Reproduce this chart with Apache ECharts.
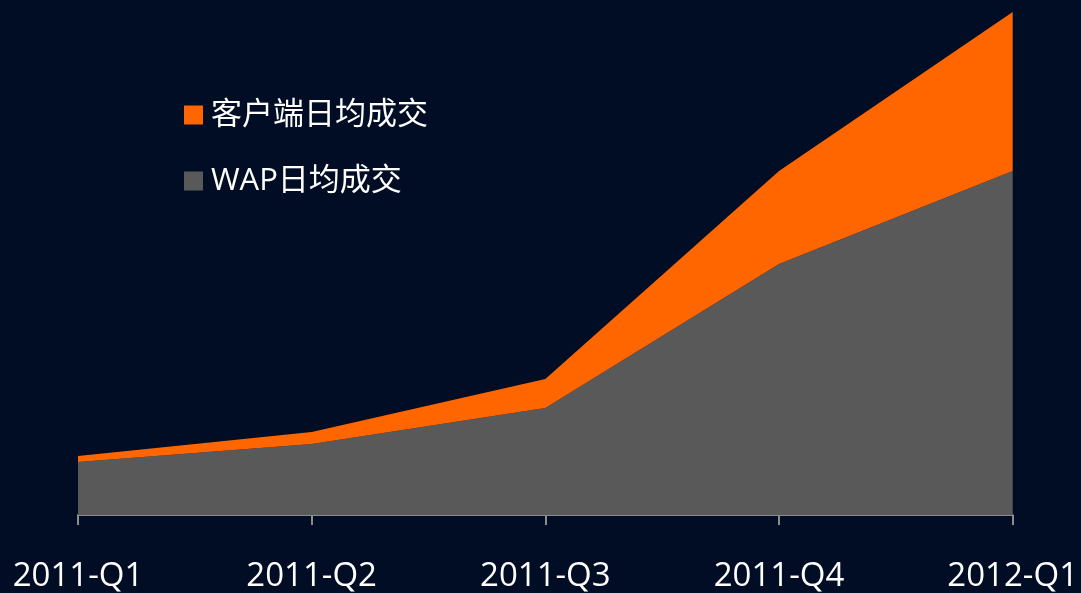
<!DOCTYPE html>
<html>
<head>
    <meta charset="utf-8">
    <title>日均成交</title>
    <script src="https://cdn.jsdelivr.net/npm/echarts@6/dist/echarts.min.js"></script>
    <style>
        html, body { margin: 0; padding: 0; background: #000d24; }
        #chart1 { width: 1081px; height: 593px; }
    </style>
</head>
<body>
<div id="chart1"></div>
<script type="text/javascript">
    // 季度
    var quarters = ['2011-Q1', '2011-Q2', '2011-Q3', '2011-Q4', '2012-Q1'];
    // WAP日均成交（底层）
    var wapValues = [53, 71, 107, 251, 344];
    // 客户端日均成交（叠加在上面）
    var clientValues = [6, 12, 29, 93, 159];

    var font = '"Open Sans", "Noto Sans CJK SC", sans-serif';

    var myChart1 = echarts.init(document.getElementById('chart1'));
    myChart1.setOption({
        backgroundColor: '#000d24',
        animation: false,
        grid: { left: 78, right: 67, top: 12, bottom: 78 },
        legend: {
            orient: 'vertical',
            left: 179,
            top: 93,
            itemWidth: 19,
            itemHeight: 19,
            itemGap: 32,
            icon: 'rect',
            textStyle: {
                color: '#ffffff',
                fontSize: 31,
                lineHeight: 34,
                padding: [0, 0, 0, 3],
                fontFamily: font
            },
            data: ['客户端日均成交', 'WAP日均成交']
        },
        xAxis: {
            type: 'category',
            boundaryGap: false,
            data: quarters,
            axisLine: { lineStyle: { color: '#8c8c8c', width: 2 } },
            axisTick: { show: true, length: 10, lineStyle: { color: '#8c8c8c', width: 2 } },
            axisLabel: {
                color: '#ffffff',
                fontSize: 33,
                margin: 45,
                fontFamily: font
            },
            splitLine: { show: false }
        },
        yAxis: {
            type: 'value',
            min: 0,
            max: 503,
            show: false,
            splitLine: { show: false }
        },
        series: [
            {
                name: 'WAP日均成交',
                type: 'line',
                stack: 'total',
                data: wapValues,
                symbol: 'none',
                lineStyle: { width: 0 },
                itemStyle: { color: '#595959' },
                areaStyle: { color: '#595959', opacity: 1 }
            },
            {
                name: '客户端日均成交',
                type: 'line',
                stack: 'total',
                data: clientValues,
                symbol: 'none',
                lineStyle: { width: 0 },
                itemStyle: { color: '#ff6600' },
                areaStyle: { color: '#ff6600', opacity: 1 }
            }
        ]
    });
</script>
</body>
</html>
